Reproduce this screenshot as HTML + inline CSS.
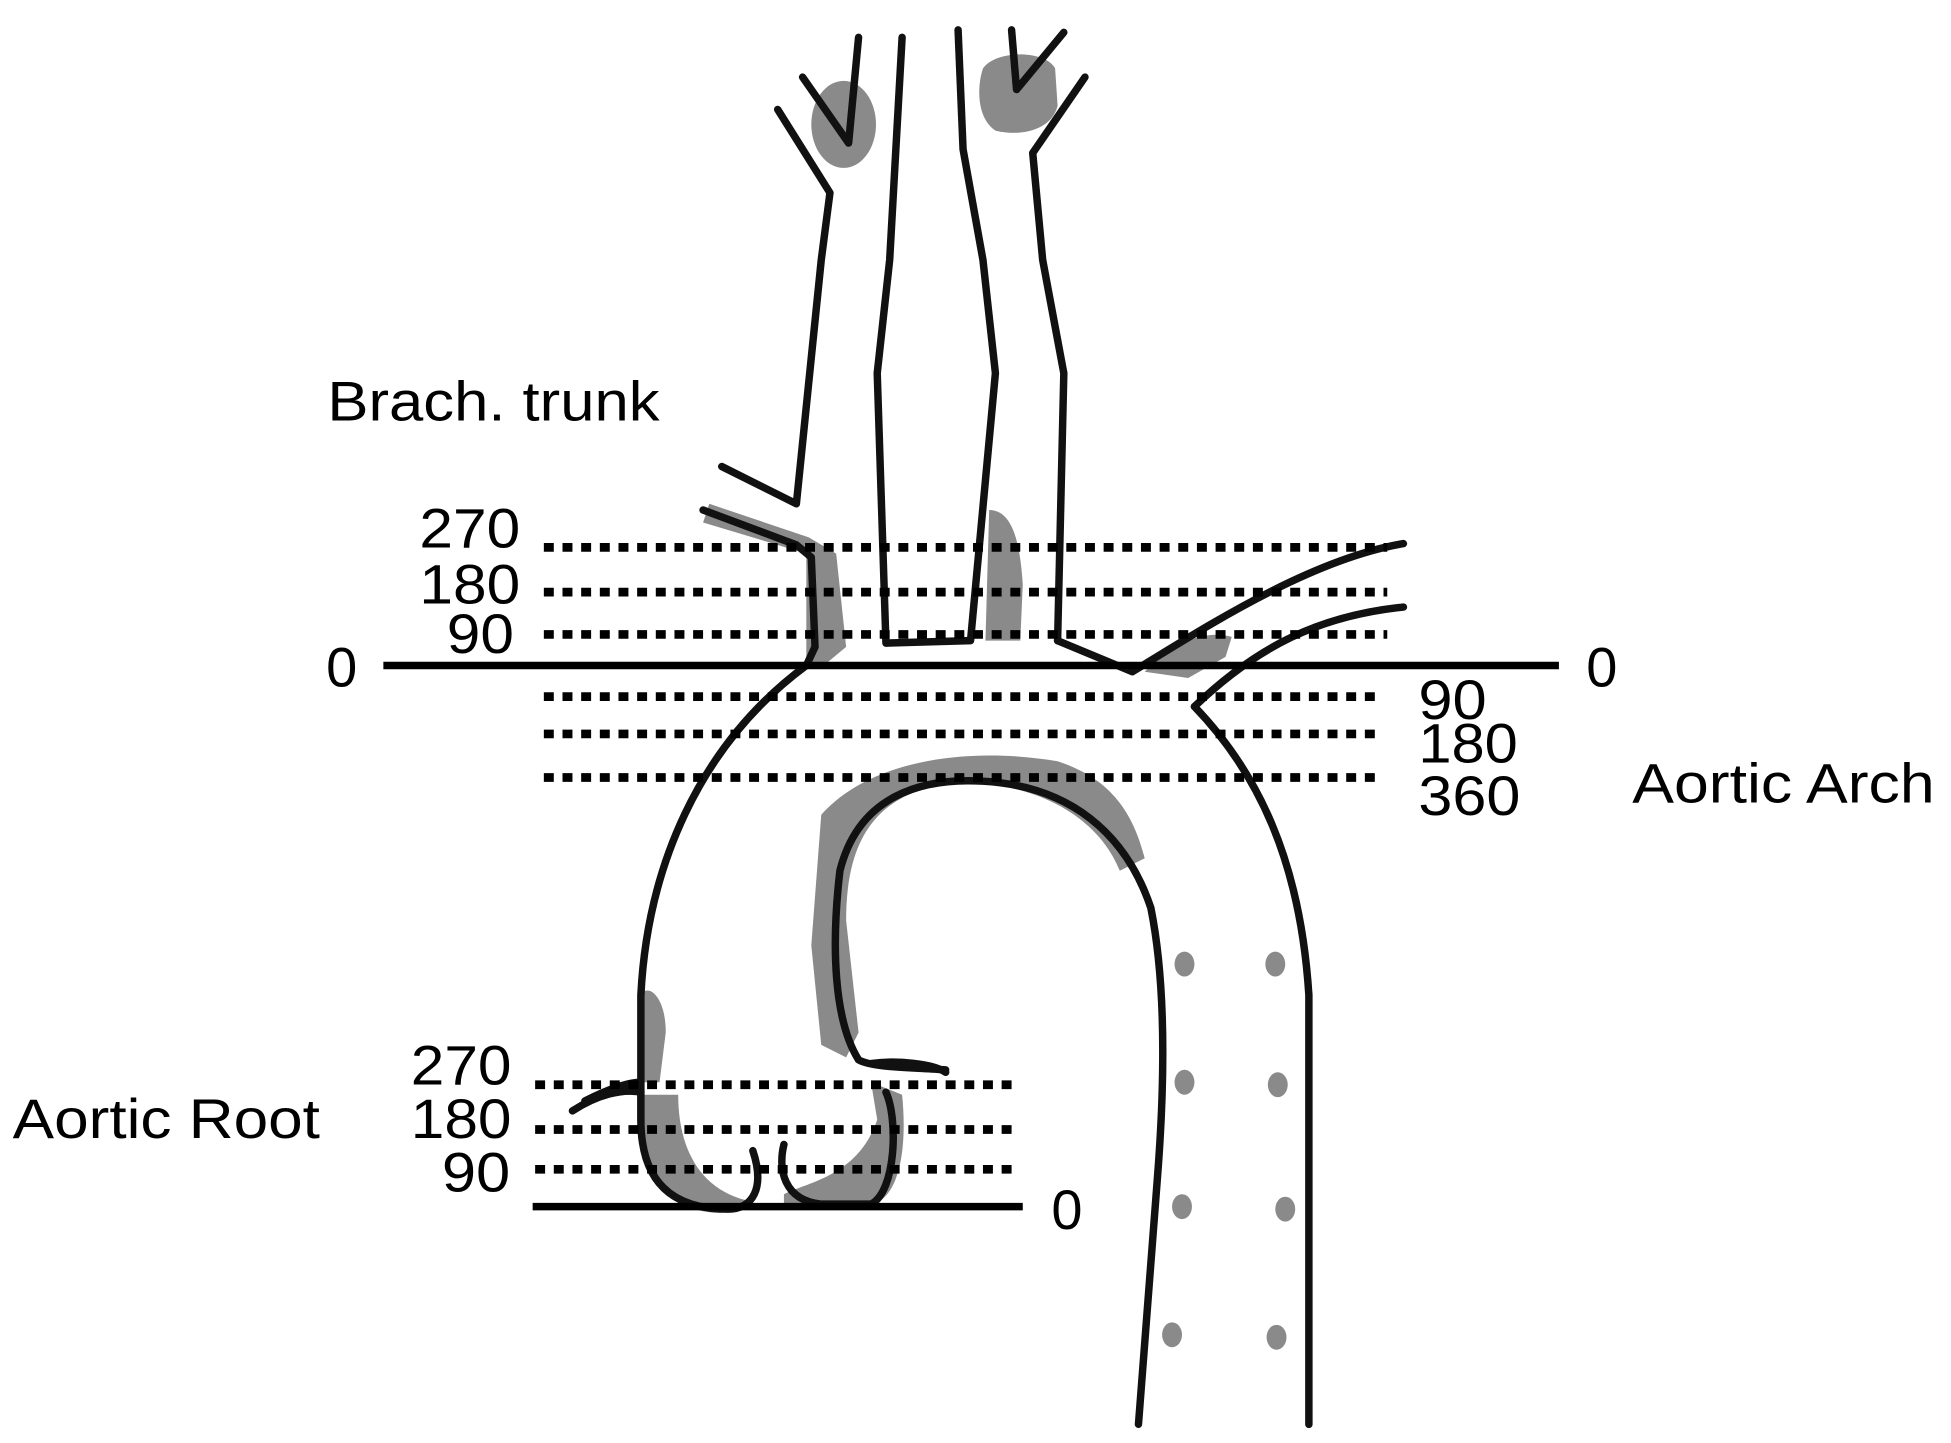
<!DOCTYPE html>
<html><head><meta charset="utf-8"><style>
html,body{margin:0;padding:0;background:#fff;}
svg{display:block;}
text{font-family:"Liberation Sans",sans-serif;fill:#000;}
</style></head><body>
<svg width="1951" height="1443" viewBox="0 0 1568 1160" xmlns="http://www.w3.org/2000/svg">
<g fill="#8a8a8a" stroke="none">
<ellipse cx="678" cy="100" rx="26" ry="35"/>
<path d="M790,55 C800,40 840,40 848,55 L850,85 C845,105 820,110 800,105 C785,95 785,70 790,55Z"/>
<path d="M570,405 L650,432 L672,445 L680,520 L662,535 L648,535 L648,445 L565,420Z"/>
<path d="M795,410 C815,410 820,440 822,470 L820,515 L792,515 Z"/>
<path d="M920,540 C940,520 965,505 990,512 L985,528 L955,545Z"/>
<path d="M660,655 C700,610 780,600 850,612 C890,625 910,650 920,690 L900,700 C880,650 820,625 760,630 C700,640 680,680 680,740 L690,830 L680,850 L660,840 L652,760 Z"/>
<path d="M515,800 C520,790 535,800 535,830 L530,870 L515,870Z"/>
<path d="M512,880 L545,880 C545,920 560,955 600,965 L580,975 C540,975 515,950 512,900Z"/>
<path d="M630,960 C650,950 690,945 705,900 L700,870 L725,880 C730,930 720,965 700,968 L630,970Z"/>
</g>
<g fill="none" stroke="#111" stroke-width="6" stroke-linecap="round" stroke-linejoin="round">
<path d="M580,375 L640,405 L660,209 L667,155 L625,88"/>
<path d="M645,62 L682,115 L690,30"/>
<path d="M565,410 L640,438 L652,448 L655,520 L648,535"/>
<path d="M725,30 L715,209 L705,300 L712,517 L780,515 L800,300 L790,209 L774,120 L770,24"/>
<path d="M813,24 L817,72 L855,26"/>
<path d="M850,515 L855,300 L838,209 L830,123 L872,62"/>
<path d="M850,515 L910,540 C960,510 1050,450 1128,437"/>
<path d="M960,568 C1010,520 1060,495 1128,488"/>
<path d="M648,535 C560,600 520,700 515,800 L515,900 C515,950 540,972 585,972 C605,972 615,955 605,925"/>
<path d="M960,568 C1010,620 1045,690 1052,800 L1052,1145"/>
<path d="M760,860 C730,858 700,858 690,852 C670,820 668,760 675,700 C690,640 740,625 790,628 C860,632 905,670 925,730 C935,780 938,850 930,950 L915,1145"/>
<path d="M630,920 C625,940 630,965 660,968 L700,968 C720,958 722,900 712,878"/>
<path d="M460,893 C480,880 500,875 515,878"/>
<path d="M470,885 C490,875 505,870 515,870"/>
<path d="M700,855 C720,852 750,855 760,862"/>
</g>
<g stroke="#000" stroke-width="6">
<line x1="308" y1="535" x2="1253" y2="535"/>
<line x1="428" y1="970" x2="822" y2="970"/>
</g>
<g stroke="#000" stroke-width="7" stroke-dasharray="8 7">
<line x1="437" y1="440" x2="1115" y2="440"/>
<line x1="437" y1="476" x2="1115" y2="476"/>
<line x1="437" y1="510" x2="1115" y2="510"/>
<line x1="437" y1="560" x2="1105" y2="560"/>
<line x1="437" y1="590" x2="1105" y2="590"/>
<line x1="437" y1="625" x2="1105" y2="625"/>
<line x1="430" y1="872" x2="818" y2="872"/>
<line x1="430" y1="908" x2="818" y2="908"/>
<line x1="430" y1="940" x2="818" y2="940"/>
</g>
<g fill="#8a8a8a">
<ellipse cx="952" cy="775" rx="8" ry="10"/><ellipse cx="1025" cy="775" rx="8" ry="10"/>
<ellipse cx="952" cy="870" rx="8" ry="10"/><ellipse cx="1027" cy="872" rx="8" ry="10"/>
<ellipse cx="950" cy="970" rx="8" ry="10"/><ellipse cx="1033" cy="972" rx="8" ry="10"/>
<ellipse cx="942" cy="1073" rx="8" ry="10"/><ellipse cx="1026" cy="1075" rx="8" ry="10"/>
</g>
<g font-size="45">
<text x="263" y="338" textLength="267" lengthAdjust="spacingAndGlyphs">Brach. trunk</text>
<text x="337" y="440" textLength="81" lengthAdjust="spacingAndGlyphs">270</text>
<text x="337" y="485" textLength="81" lengthAdjust="spacingAndGlyphs">180</text>
<text x="359" y="525" textLength="54" lengthAdjust="spacingAndGlyphs">90</text>
<text x="262" y="552">0</text>
<text x="1275" y="552">0</text>
<text x="1140" y="578" textLength="55" lengthAdjust="spacingAndGlyphs">90</text>
<text x="1140" y="613" textLength="80" lengthAdjust="spacingAndGlyphs">180</text>
<text x="1140" y="655" textLength="82" lengthAdjust="spacingAndGlyphs">360</text>
<text x="1312" y="645" textLength="243" lengthAdjust="spacingAndGlyphs">Aortic Arch</text>
<text x="330" y="872" textLength="81" lengthAdjust="spacingAndGlyphs">270</text>
<text x="330" y="915" textLength="81" lengthAdjust="spacingAndGlyphs">180</text>
<text x="355" y="958" textLength="55" lengthAdjust="spacingAndGlyphs">90</text>
<text x="10" y="915" textLength="247" lengthAdjust="spacingAndGlyphs">Aortic Root</text>
<text x="845" y="988">0</text>
</g>
</svg>
</body></html>
